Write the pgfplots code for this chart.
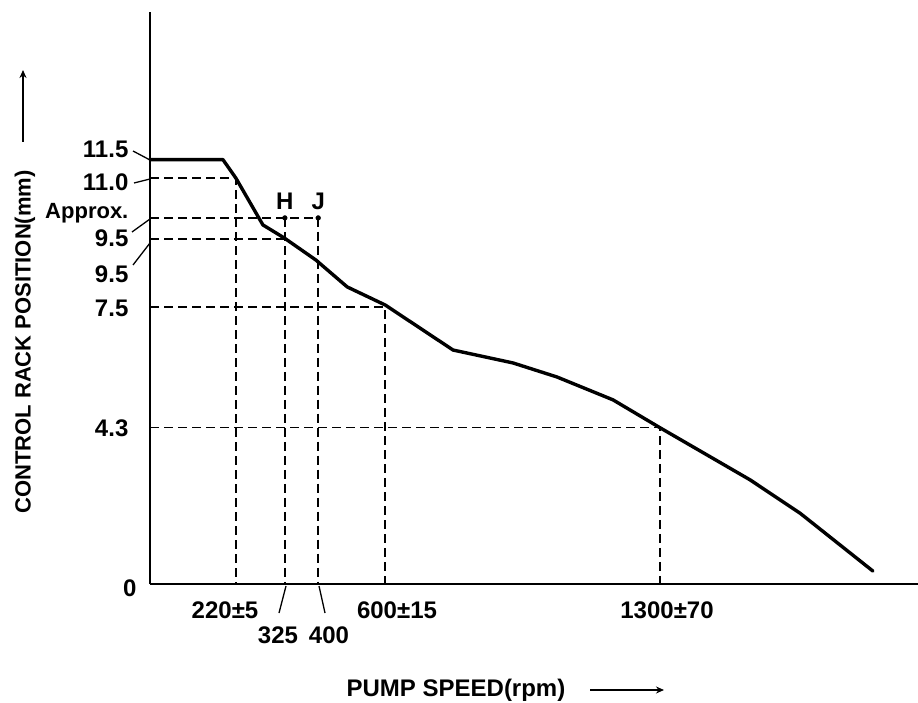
\documentclass[border=0pt]{standalone}
\usepackage{fontspec}
\setmainfont{Liberation Sans}
\usepackage{pgfplots}
\pgfplotsset{compat=1.18}
\usetikzlibrary{arrows.meta}

\begin{document}
\begin{tikzpicture}[x=1pt,y=-1pt]
\useasboundingbox (0,0) rectangle (918,703);
\begin{axis}[
  at={(150pt,-584pt)}, anchor=south west,
  scale only axis, width=768pt, height=572pt,
  xmin=0, xmax=1959, ymin=0, ymax=15.5,
  axis x line=bottom, axis y line=left,
  axis line style={-, line width=2.6pt},
  xtick=\empty, ytick=\empty,
  clip=false,
  dsh/.style={line width=1.8pt, dash pattern=on 9pt off 5pt},
]
% dashed guide lines
\addplot[dsh] coordinates {(0,11.0)(219,11.0)(219,0)};
\addplot[dsh] coordinates {(0,9.92)(429,9.92)(429,0)};
\addplot[dsh] coordinates {(344,9.92)(344,0)};
\addplot[dsh] coordinates {(0,9.35)(342,9.35)};
\addplot[dsh] coordinates {(0,7.5)(600,7.5)(600,0)};
\addplot[dsh] coordinates {(0,4.24)(1300,4.24)(1300,0)};
% characteristic curve
\addplot[line width=3.4pt, line join=round, line cap=round] coordinates {
 (0,11.5)(186,11.5)(219,11.0)(288,9.73)(342,9.38)(423,8.78)(503,8.05)
 (600,7.56)(773,6.34)(926,5.99)(1038,5.61)(1181,4.99)(1300,4.24)
 (1531,2.82)(1658,1.92)(1844,0.35)};
\addplot[only marks, mark=*, mark size=2.4pt] coordinates {(344,9.92)(429,9.92)};
\node[font=\fontsize{24}{26}\selectfont\bfseries, anchor=south] at (axis cs:344,9.92) [yshift=5pt] {H};
\node[font=\fontsize{24}{26}\selectfont\bfseries, anchor=south] at (axis cs:429,9.92) [yshift=5pt] {J};
\end{axis}
\begin{scope}[every node/.style={font=\fontsize{24}{26}\selectfont\bfseries, inner sep=0pt}, line width=1.3pt]
\node[anchor=east] at (129,149) {11.5};
\draw (133,151) -- (150,160);
\node[anchor=east] at (129,182) {11.0};
\draw (134,183) -- (150,179);
\node[anchor=east, font=\fontsize{22}{24}\selectfont\bfseries] at (129,213) {Approx.};
\node[anchor=east] at (129,238) {9.5};
\draw (132,232) -- (150,219);
\node[anchor=east] at (129,274) {9.5};
\draw (133,265) -- (150,243);
\node[anchor=east] at (129,308) {7.5};
\node[anchor=east] at (129,428) {4.3};
\node[anchor=east] at (137,588) {0};
\node at (225,610) {220±5};
\node at (278,635) {325};
\node at (329,635) {400};
\draw (279,613) -- (286,586);
\draw (325,613) -- (319,586);
\node at (397,610) {600±15};
\node at (667,610) {1300±70};
\node[rotate=90, font=\fontsize{22}{24}\selectfont\bfseries] at (25,342) {CONTROL RACK POSITION(mm)};
\draw[line width=1.6pt, -{Stealth[length=8pt,width=7pt]}] (23,142) -- (23,70);
\node at (456,690) {PUMP SPEED(rpm)};
\draw[line width=1.6pt, -{Stealth[length=8pt,width=7pt]}] (590,690) -- (664,690);
\end{scope}
\end{tikzpicture}
\end{document}
